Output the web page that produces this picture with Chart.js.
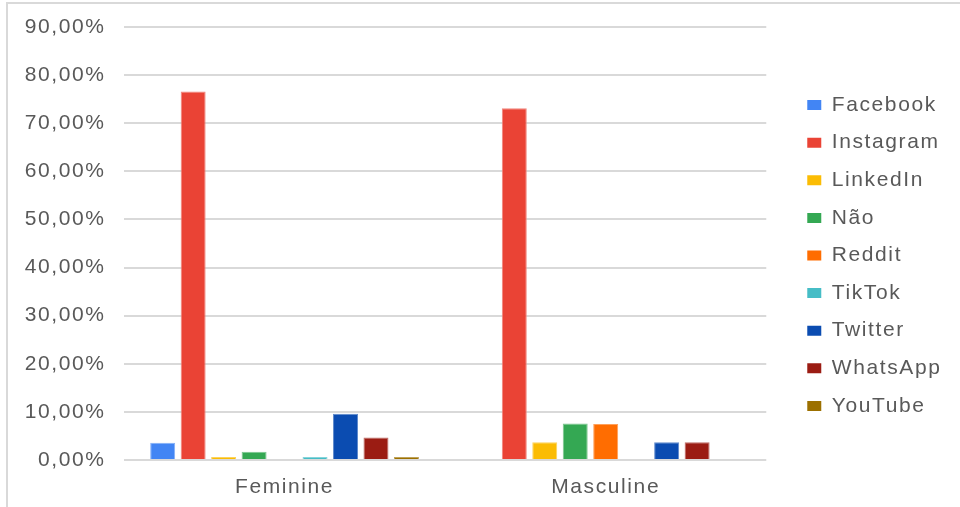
<!DOCTYPE html>
<html><head><meta charset="utf-8">
<script src="https://cdn.jsdelivr.net/npm/chart.js@4/dist/chart.umd.min.js"></script>
<style>html,body{margin:0;padding:0;background:#fff}#wrap{width:960px;height:507px;position:relative}</style>
</head><body><div id="wrap"><canvas id="c"></canvas></div>
<script>
const categories = ['Feminine', 'Masculine'];
const seriesNames = ['Facebook', 'Instagram', 'LinkedIn', 'Não', 'Reddit', 'TikTok', 'Twitter', 'WhatsApp', 'YouTube'];
const feminineValues = [3.6, 76.6, 0.6, 1.7, 0, 0.6, 9.6, 4.7, 0.6];
const masculineValues = [0, 73.1, 3.7, 7.6, 7.5, 0, 3.7, 3.7, 0];
const seriesColors = ['#4285F4', '#EA4335', '#FBBC04', '#34A853', '#FF6D01', '#46BDC6', '#0B4CB1', '#9B1C13', '#9C7000'];
const yTickLabels = ['0,00%', '10,00%', '20,00%', '30,00%', '40,00%', '50,00%', '60,00%', '70,00%', '80,00%', '90,00%'];

const LEG_PAD = 16.6;
const SPACING = '1.6px';
const TEXT_COLOR = '#595959';
const FAMILY = '"Liberation Sans", Arial, sans-serif';
const FONT = {family: FAMILY, size: 21};

function lighten(hex, t) {
  const n = parseInt(hex.slice(1), 16);
  const r = (n >> 16) & 255, g = (n >> 8) & 255, b = n & 255;
  const m = c => Math.round(c + (255 - c) * t);
  return 'rgb(' + m(r) + ',' + m(g) + ',' + m(b) + ')';
}

const datasets = seriesNames.map((name, i) => ({
  label: name,
  data: [feminineValues[i], masculineValues[i]],
  backgroundColor: seriesColors[i],
  borderColor: lighten(seriesColors[i], 0.35),
  borderWidth: {top: 1, left: 1, right: 1, bottom: 0},
  categoryPercentage: 0.854,
  barPercentage: 0.82,
  yAxisID: 'y'
}));

const spacingPlugin = {
  id: 'spacing',
  beforeUpdate(chart) { chart.ctx.letterSpacing = SPACING; },
  beforeLayout(chart) { chart.ctx.letterSpacing = SPACING; },
  beforeDraw(chart) {
    const ctx = chart.ctx;
    ctx.letterSpacing = SPACING;
    ctx.save();
    ctx.fillStyle = '#ffffff';
    ctx.fillRect(0, 0, chart.width, chart.height);
    ctx.strokeStyle = '#d9d9d9';
    ctx.lineWidth = 2;
    ctx.beginPath();
    ctx.moveTo(7, chart.height);
    ctx.lineTo(7, 3);
    ctx.lineTo(chart.width, 3);
    ctx.stroke();
    ctx.restore();
  }
};

const chart = new Chart(document.getElementById('c'), {
  type: 'bar',
  data: {labels: categories, datasets},
  plugins: [spacingPlugin],
  options: {
    responsive: true,
    maintainAspectRatio: false,
    animation: false,
    layout: {padding: {top: 4, bottom: 0, left: 0, right: 0}},
    plugins: {
      legend: {
        position: 'right',
        labels: {
          boxWidth: 14,
          boxHeight: 10,
          padding: LEG_PAD,
          color: TEXT_COLOR,
          font: FONT,
          generateLabels(chart) {
            return Chart.defaults.plugins.legend.labels.generateLabels(chart).map(l => {
              l.lineWidth = 0;
              l.strokeStyle = l.fillStyle;
              return l;
            });
          }
        }
      },
      tooltip: {enabled: false}
    },
    scales: {
      x: {
        grid: {display: false},
        border: {display: false},
        ticks: {color: TEXT_COLOR, font: FONT, padding: 7},
        afterFit(s) { s.height = 47; }
      },
      y: {
        min: 0,
        max: 90,
        ticks: {
          stepSize: 10,
          color: TEXT_COLOR,
          font: {family: FAMILY, size: 21, lineHeight: 0.81},
          padding: 18.5,
          callback: (v, i) => yTickLabels[i]
        },
        grid: {color: '#d9d9d9', lineWidth: 2, drawTicks: false},
        border: {display: false},
        afterFit(s) { s.width = 124; }
      },
      yR: {
        position: 'right',
        display: true,
        grid: {display: false, drawTicks: false},
        border: {display: false},
        ticks: {display: false},
        afterFit(s) { s.width = 41 - LEG_PAD; }
      }
    }
  }
});

// fine-tune right padding so legend boxes start at x≈807 (plot ends ≈767)
for (let k = 0; k < 3; k++) {
  const hb = chart.legend.legendHitBoxes && chart.legend.legendHitBoxes[0];
  if (!hb) break;
  const delta = hb.left - 807;
  if (Math.abs(delta) < 0.5) break;
  chart.options.layout.padding.right = Math.max(0, chart.options.layout.padding.right + delta);
  chart.update();
}
</script>
</body></html>
